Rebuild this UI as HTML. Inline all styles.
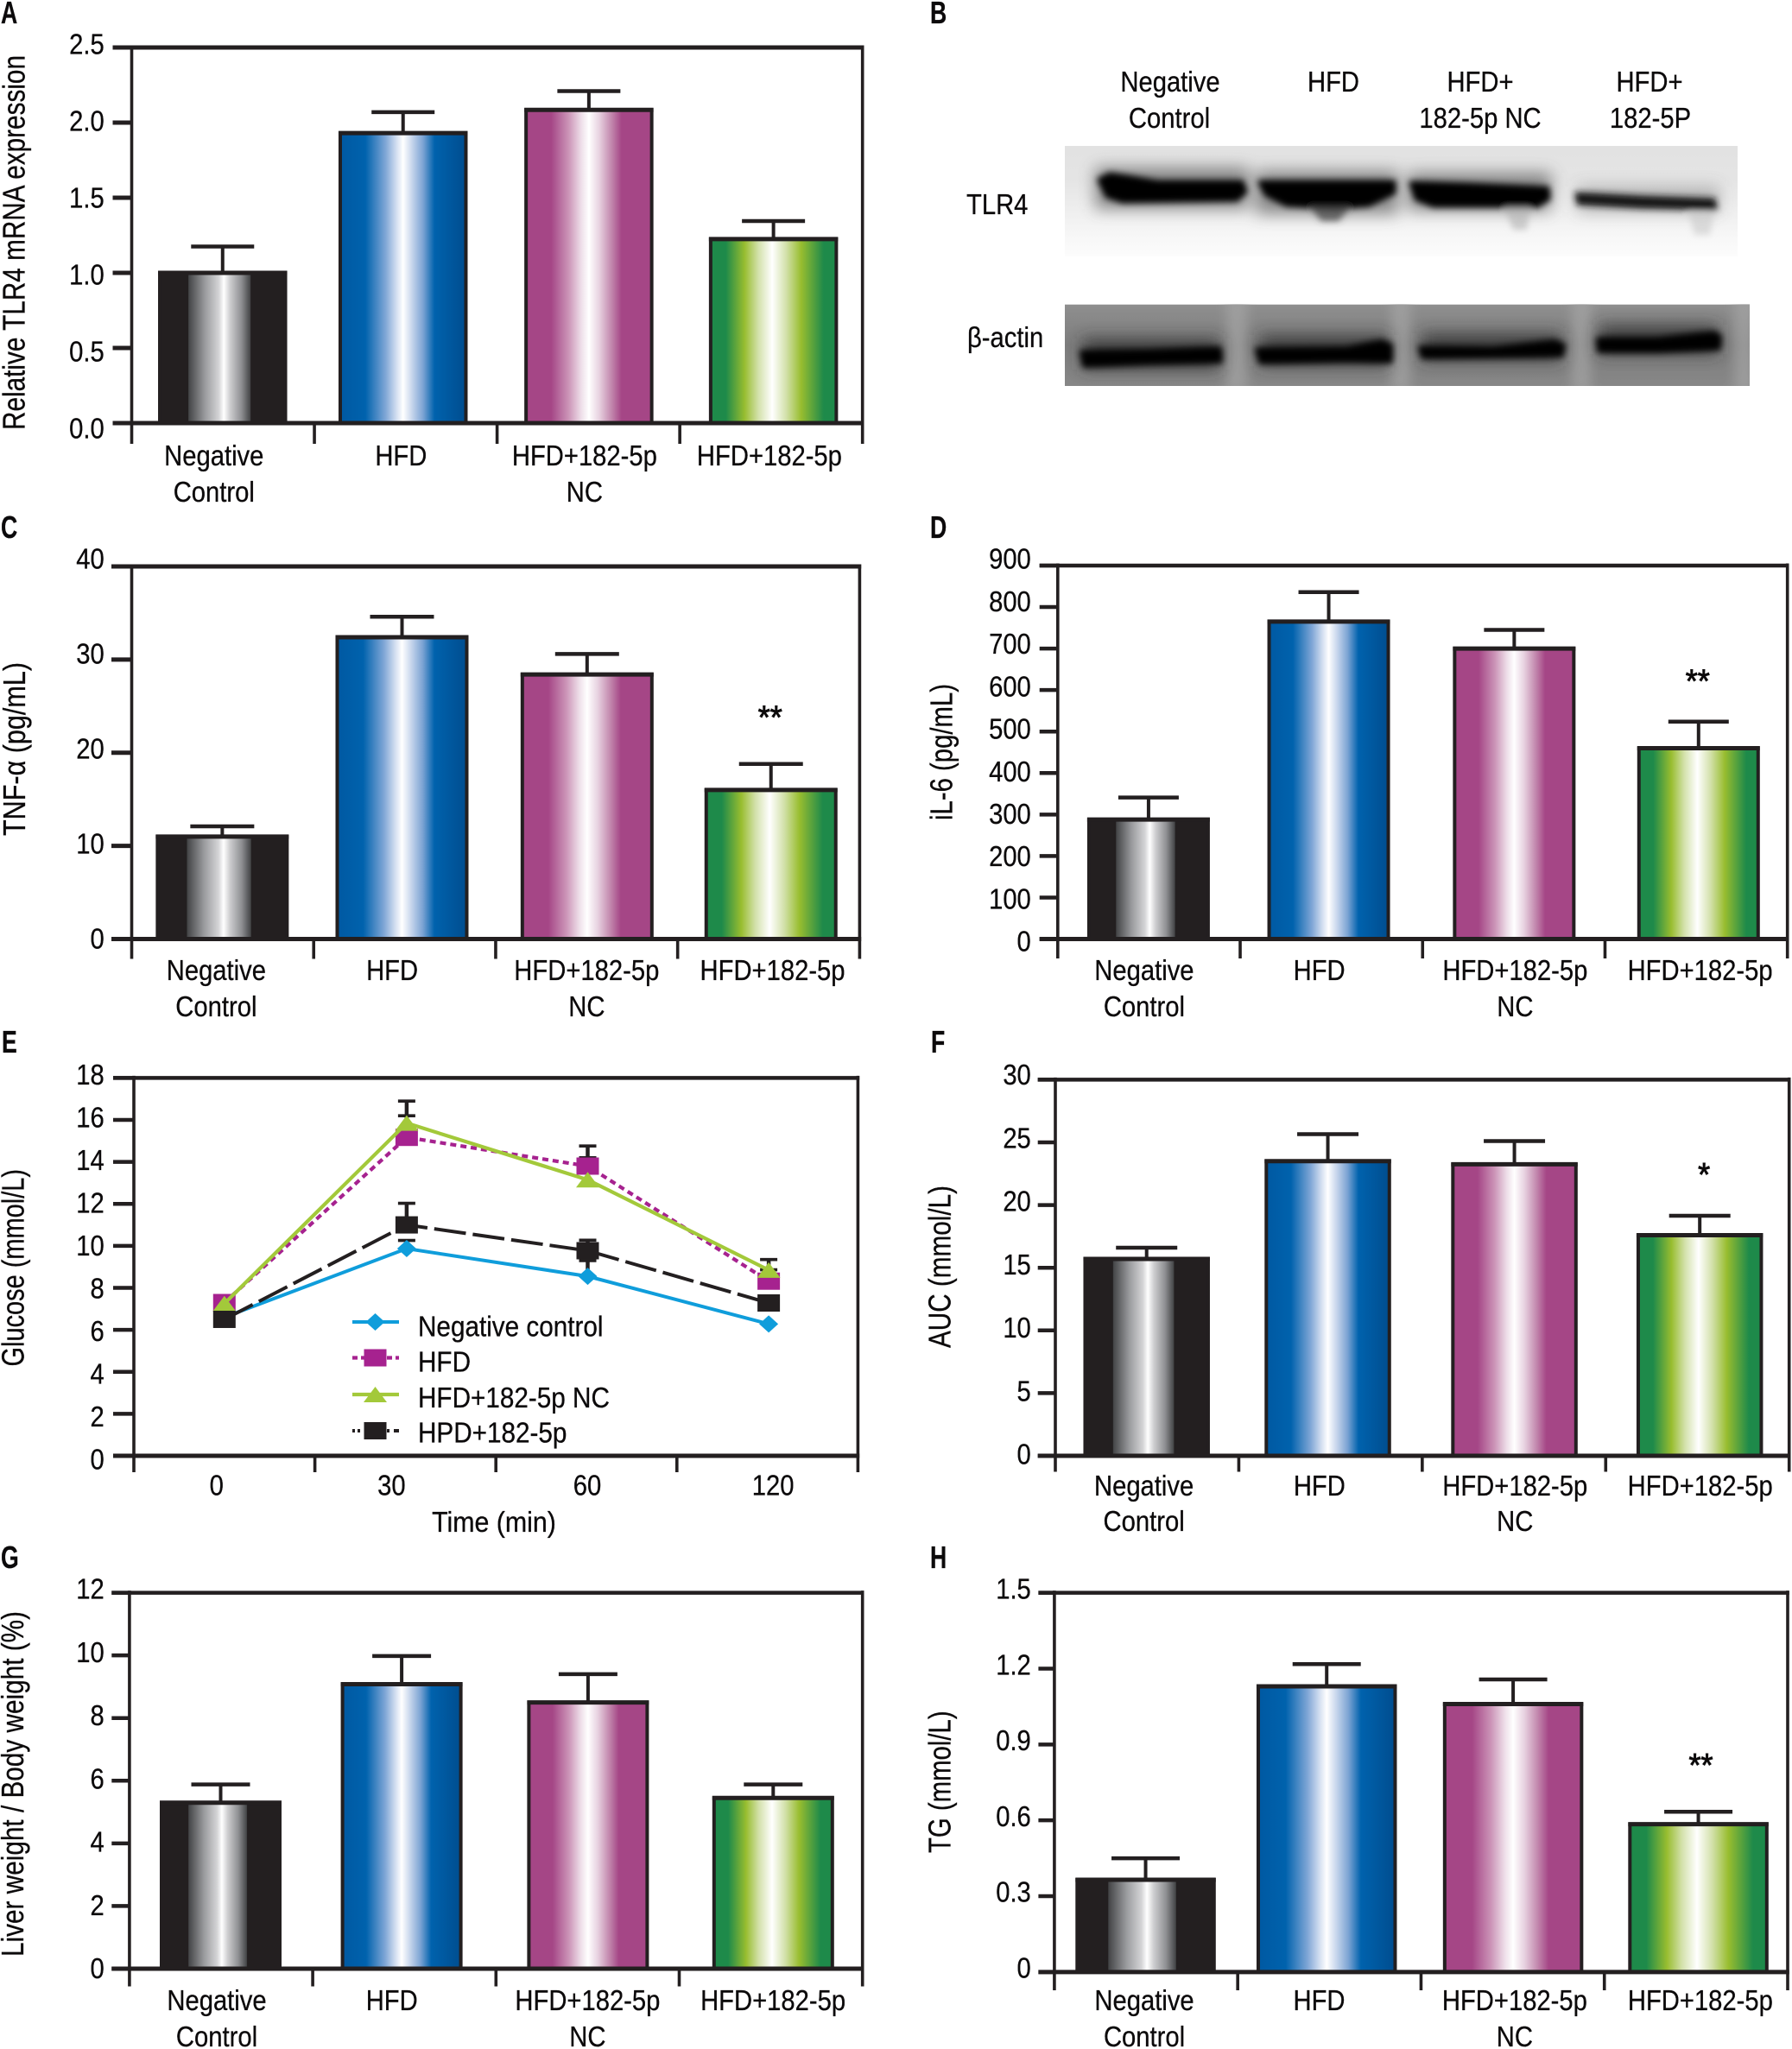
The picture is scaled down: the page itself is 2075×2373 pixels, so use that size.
<!DOCTYPE html>
<html lang="en">
<head>
<meta charset="utf-8">
<title>TLR4 and metabolic measures panel figure</title>
<style>
html,body{margin:0;padding:0;background:#fff;width:2075px;height:2373px;overflow:hidden}
svg{display:block}
text{font-family:"Liberation Sans",sans-serif;fill:#0c0a0b;stroke:#0c0a0b;stroke-width:.3px}
</style>
</head>
<body>
<svg id="figure" xmlns="http://www.w3.org/2000/svg" width="2075" height="2373" viewBox="0 0 2075 2373">
<defs>
  <linearGradient id="grad-black" x1="0" x2="1" y1="0" y2="0">
    <stop offset="0" stop-color="#231f20"/><stop offset=".225" stop-color="#231f20"/><stop offset=".23" stop-color="#444547"/>
    <stop offset=".36" stop-color="#9a9b9e"/><stop offset=".47" stop-color="#d4d4d6"/><stop offset=".51" stop-color="#ffffff"/>
    <stop offset=".56" stop-color="#cdcdcf"/><stop offset=".65" stop-color="#8e8f92"/><stop offset=".72" stop-color="#444547"/><stop offset=".725" stop-color="#231f20"/><stop offset="1" stop-color="#231f20"/>
  </linearGradient>
  <linearGradient id="grad-blue" x1="0" x2="1" y1="0" y2="0">
    <stop offset="0" stop-color="#0059a2"/><stop offset=".2" stop-color="#0062ad"/><stop offset=".36" stop-color="#7fa6d6"/><stop offset=".45" stop-color="#d5e0f1"/><stop offset=".5" stop-color="#ffffff"/>
    <stop offset=".56" stop-color="#d0dcef"/><stop offset=".66" stop-color="#7ba3d3"/><stop offset=".75" stop-color="#0062ad"/><stop offset="1" stop-color="#004d8f"/>
  </linearGradient>
  <linearGradient id="grad-magenta" x1="0" x2="1" y1="0" y2="0">
    <stop offset="0" stop-color="#a54686"/><stop offset=".2" stop-color="#a54686"/><stop offset=".34" stop-color="#cc95b8"/><stop offset=".44" stop-color="#eedfe9"/><stop offset=".5" stop-color="#ffffff"/>
    <stop offset=".58" stop-color="#e8d3e1"/><stop offset=".68" stop-color="#c287ad"/><stop offset=".76" stop-color="#a54686"/><stop offset="1" stop-color="#a54686"/>
  </linearGradient>
  <linearGradient id="grad-green" x1="0" x2="1" y1="0" y2="0">
    <stop offset="0" stop-color="#1e8a4a"/><stop offset=".12" stop-color="#1e8a4a"/><stop offset=".27" stop-color="#98bd2f"/><stop offset=".38" stop-color="#d3e1ab"/><stop offset=".49" stop-color="#ffffff"/>
    <stop offset=".6" stop-color="#d3e1ab"/><stop offset=".72" stop-color="#98bd2f"/><stop offset=".9" stop-color="#1e8a4a"/><stop offset="1" stop-color="#1e8a4a"/>
  </linearGradient>
  <linearGradient id="blot-top-bg" x1="0" x2="0" y1="0" y2="1">
    <stop offset="0" stop-color="#e2e2e2"/><stop offset=".3" stop-color="#e4e4e4"/><stop offset=".6" stop-color="#efefef"/><stop offset=".85" stop-color="#f8f8f8"/><stop offset="1" stop-color="#fcfcfc"/>
  </linearGradient>
  <linearGradient id="blot-bottom-bg" x1="0" x2="0" y1="0" y2="1">
    <stop offset="0" stop-color="#8f8f8f"/><stop offset=".5" stop-color="#7d7d7d"/><stop offset="1" stop-color="#878787"/>
  </linearGradient>
  <filter id="blur-band" filterUnits="userSpaceOnUse" x="1200" y="150" width="860" height="320"><feGaussianBlur stdDeviation="3.8"/></filter>
  <filter id="blur-halo" filterUnits="userSpaceOnUse" x="1200" y="150" width="860" height="320"><feGaussianBlur stdDeviation="9"/></filter>
  <filter id="blur-gap" filterUnits="userSpaceOnUse" x="1200" y="320" width="860" height="160"><feGaussianBlur stdDeviation="7"/></filter>
  <clipPath id="clip-blot-top"><rect x="1233" y="169" width="779" height="128"/></clipPath>
  <clipPath id="clip-blot-bottom"><rect x="1233" y="352" width="793" height="95"/></clipPath>
</defs>

<g font-weight="bold" font-size="36">
  <text transform="translate(1 27) scale(.74 1)">A</text>
  <text transform="translate(1077 27) scale(.74 1)">B</text>
  <text transform="translate(1 623) scale(.74 1)">C</text>
  <text transform="translate(1077 623) scale(.74 1)">D</text>
  <text transform="translate(2 1219) scale(.74 1)">E</text>
  <text transform="translate(1078 1219) scale(.74 1)">F</text>
  <text transform="translate(1 1816) scale(.74 1)">G</text>
  <text transform="translate(1077 1816) scale(.74 1)">H</text>
</g>

<g>
  <g font-size="33" text-anchor="middle">
    <text transform="translate(1355 106) scale(.885 1)">Negative</text>
    <text transform="translate(1354 148) scale(.885 1)">Control</text>
    <text transform="translate(1544 106) scale(.885 1)">HFD</text>
    <text transform="translate(1714 106) scale(.885 1)">HFD+</text>
    <text transform="translate(1714 148) scale(.885 1)">182-5p NC</text>
    <text transform="translate(1910 106) scale(.885 1)">HFD+</text>
    <text transform="translate(1911 148) scale(.885 1)">182-5P</text>
  </g>
  <text font-size="33" transform="translate(1119 248) scale(.885 1)">TLR4</text>
  <text font-size="33" transform="translate(1120 402) scale(.885 1)">β-actin</text>

  <g clip-path="url(#clip-blot-top)">
    <rect x="1233" y="169" width="779" height="128" fill="url(#blot-top-bg)"/>
    <g filter="url(#blur-halo)" fill="#4c4c4c" opacity=".62">
      <rect x="1268" y="194" width="178" height="48"/>
      <rect x="1454" y="198" width="165" height="50"/>
      <rect x="1630" y="200" width="166" height="44"/>
      <rect x="1826" y="216" width="165" height="30" opacity=".55"/>
    </g>
    <g filter="url(#blur-band)" stroke-linejoin="round">
      <path fill="#000" stroke="#000" stroke-width="5" d="M1273 208 L1285 202 L1305 205 L1340 211 L1438 211 L1442 222 L1432 231 L1300 233 L1282 227 Z"/>
      <path fill="#000" stroke="#000" stroke-width="5" d="M1459 211 L1614 211 L1614 223 L1585 237 L1545 240 L1490 237 L1466 225 Z"/>
      <path fill="#444" opacity=".75" d="M1515 238 L1565 238 L1550 256 L1530 256 Z"/>
      <path fill="#000" stroke="#000" stroke-width="5" d="M1634 212 L1700 214 L1792 218 L1793 230 L1780 238 L1660 238 L1640 230 Z"/>
      <path fill="#b0b0b0" opacity=".6" d="M1742 240 L1772 240 L1768 266 L1752 266 Z"/>
      <path fill="#161616" stroke="#161616" stroke-width="3" d="M1825 224 L1900 228 L1985 231 L1987 242 L1900 240 L1827 236 Z"/>
      <path fill="#c4c4c4" opacity=".55" d="M1955 245 L1985 245 L1980 272 L1962 272 Z"/>
    </g>
  </g>

  <g clip-path="url(#clip-blot-bottom)">
    <rect x="1233" y="352" width="793" height="95" fill="url(#blot-bottom-bg)"/>
    <rect x="1233" y="349" width="793" height="4" fill="#dcdcdc"/>
    <g filter="url(#blur-gap)" fill="#a8a8a8" opacity=".65">
      <rect x="1420" y="345" width="24" height="110"/>
      <rect x="1611" y="345" width="22" height="110"/>
      <rect x="1820" y="345" width="22" height="110"/>
      <rect x="2008" y="345" width="24" height="110"/>
    </g>
    <g filter="url(#blur-halo)" fill="#2c2c2c" opacity=".72">
      <rect x="1253" y="392" width="160" height="36"/>
      <rect x="1458" y="388" width="150" height="36"/>
      <rect x="1646" y="386" width="162" height="32"/>
      <rect x="1851" y="376" width="138" height="34"/>
    </g>
    <g filter="url(#blur-band)" stroke-linejoin="round">
      <path fill="#000" stroke="#000" stroke-width="6" d="M1253 408 L1330 407 L1412 404 L1413 418 L1330 420 L1256 423 Z"/>
      <path fill="#000" stroke="#000" stroke-width="6" d="M1456 405 L1560 404 L1600 396 L1610 400 L1610 418 L1560 417 L1460 419 Z"/>
      <path fill="#000" stroke="#000" stroke-width="6" d="M1645 403 L1730 404 L1800 396 L1810 400 L1808 411 L1730 412 L1648 413 Z"/>
      <path fill="#000" stroke="#000" stroke-width="6" d="M1851 393 L1920 393 L1985 386 L1991 390 L1990 403 L1920 406 L1852 406 Z"/>
    </g>
  </g>
</g>
</svg>

<script>
// ---------- shared category and tick labels ----------
const barCategories = [["Negative", "Control"], ["HFD"], ["HFD+182-5p", "NC"], ["HFD+182-5p"]];
const barGradients = ["grad-black", "grad-blue", "grad-magenta", "grad-green"];

// ---------- panel A ----------
const aValues = [1.0, 1.93, 2.085, 1.225];
const aErrorTops = [1.175, 2.07, 2.21, 1.345];
const aTickLabels = ["0.0", "0.5", "1.0", "1.5", "2.0", "2.5"];
// ---------- panel C ----------
const cValues = [11.0, 32.4, 28.4, 16.0];
const cErrorTops = [12.1, 34.6, 30.6, 18.8];
const cTickLabels = ["0", "10", "20", "30", "40"];
// ---------- panel D ----------
const dValues = [288, 765, 700, 460];
const dErrorTops = [341, 836, 745, 524];
const dTickLabels = ["0", "100", "200", "300", "400", "500", "600", "700", "800", "900"];
// ---------- panel F ----------
const fValues = [15.7, 23.5, 23.25, 17.6];
const fErrorTops = [16.6, 25.65, 25.1, 19.15];
const fTickLabels = ["0", "5", "10", "15", "20", "25", "30"];
// ---------- panel G ----------
const gValues = [5.3, 9.08, 8.5, 5.45];
const gErrorTops = [5.88, 9.98, 9.4, 5.88];
const gTickLabels = ["0", "2", "4", "6", "8", "10", "12"];
// ---------- panel H ----------
const hValues = [0.365, 1.13, 1.06, 0.585];
const hErrorTops = [0.45, 1.218, 1.157, 0.634];
const hTickLabels = ["0", "0.3", "0.6", "0.9", "1.2", "1.5"];
// ---------- panel E ----------
const timeLabels = ["0", "30", "60", "120"];
const glucoseTickLabels = ["0", "2", "4", "6", "8", "10", "12", "14", "16", "18"];
const negativeControlGlucose = [6.6, 9.87, 8.55, 6.28];
const hfdGlucose = [7.3, 15.17, 13.8, 8.32];
const hfdNcGlucose = [7.25, 15.85, 13.15, 8.85];
const hpdGlucose = [6.5, 11.0, 9.77, 7.28];
const negativeControlErrorTops = [6.6, 10.26, 9.3, 6.28];
const hfdErrorTops = [7.3, 16.2, 14.76, 8.86];
const hfdNcErrorTops = [7.25, 16.9, 14.2, 9.35];
const hpdErrorTops = [6.5, 12.03, 10.27, 7.6];
const seriesLabels = ["Negative control", "HFD", "HFD+182-5p NC", "HPD+182-5p"];

const SVGNS = "http://www.w3.org/2000/svg";
const INK = "#231f20";
const root = document.getElementById("figure");

function shape(parent, tag, attrs, name) {
  const el = document.createElementNS(SVGNS, tag);
  for (const k in attrs) el.setAttribute(k, attrs[k]);
  
  
  parent.appendChild(el);
  return el;
}
function line(parent, x1, y1, x2, y2, w, name, color) {
  return shape(parent, "line", { x1, y1, x2, y2, stroke: color || INK, "stroke-width": w }, name);
}
function label(parent, x, y, str, anchor, name, fs, sx) {
  const el = shape(parent, "text", {
    transform: `translate(${x} ${y}) scale(${sx || 0.885} 1)`,
    "text-anchor": anchor, "font-size": fs || 33
  }, name);
  el.textContent = str;
  return el;
}
function yTitle(parent, x, yBottom, len, str, name) {
  const el = shape(parent, "text", {
    transform: `translate(${x} ${yBottom}) rotate(-90)`,
    "font-size": 36, textLength: len, lengthAdjust: "spacingAndGlyphs"
  }, name);
  el.textContent = str;
  return el;
}
function group(name) {
  return shape(root, "g", {}, name);
}

// Draws frame, ticks and tick labels; returns the y scale.
function drawAxes(g, f, tickLabels) {
  const max = parseFloat(tickLabels[tickLabels.length - 1]);
  const y = v => f.b - (v / max) * (f.b - f.t);
  const n = tickLabels.length - 1;
  tickLabels.forEach((t, i) => {
    const v = parseFloat(t), ty = y(v);
    line(g, f.tickEnd, ty, f.l, ty, f.tickW || 5, "y-axis-tick");
    const off = f.labelOff[1] + (f.labelOff[0] - f.labelOff[1]) * (i / n);
    label(g, f.labelRight, ty + off + 10.6, t, "end", "y-axis-tick-label");
  });
  line(g, f.l, f.t - 2.5, f.l, f.tickBottom, 3.6, "y-axis-line");
  line(g, f.r, f.t - 2.5, f.r, f.tickBottom, 3.6, "right-frame-line");
  const bw = (f.r - f.l) / 4;
  for (let i = 1; i < 4; i++) line(g, f.l + i * bw, f.b, f.l + i * bw, f.tickBottom, 3.6, "x-axis-tick");
  return y;
}
function drawFrameLines(g, f) {
  line(g, f.tickEnd, f.t, f.r + 1.8, f.t, f.tickW || 5, "top-frame-line");
  line(g, f.tickEnd, f.b, f.r + 1.8, f.b, 5, "x-axis-line");
}
function barOffset(i) {
  return i === 1 ? -2.6 : i === 2 ? 1 : i === 3 ? 3.2 : 0;
}

function drawBarPanel(p) {
  const g = group(p.name);
  const f = p.frame;
  const y = drawAxes(g, f, p.tickLabels);
  const band = (f.r - f.l) / 4;
  const x = i => f.l + band * (i + 0.5) + barOffset(i) - 0.5;
  p.values.forEach((v, i) => {
    const cx = x(i), top = y(v), cap = y(p.errors[i]);
    line(g, cx, top, cx, cap, 4, "error-bar-stem");
    line(g, cx - p.capW / 2, cap, cx + p.capW / 2, cap, 4.5, "error-bar-cap");
    shape(g, "rect", {
      x: cx - p.barW / 2 + 2, y: top, width: p.barW - 4, height: f.b - top,
      fill: `url(#${barGradients[i]})`, stroke: INK, "stroke-width": 4
    }, "bar-" + (i + 1));
    // thicker top edge of the bar
    line(g, cx - p.barW / 2, top, cx + p.barW / 2, top, 5, "bar-top-edge");
  });
  drawFrameLines(g, f);
  barCategories.forEach((lines, i) => {
    const lx = f.l + band * (i + 0.5) + p.labelNudge[i];
    lines.forEach((s, j) => label(g, lx, p.labelBase[j], s, "middle", "x-category-label"));
  });
  yTitle(g, p.title.x, p.title.y, p.title.len, p.title.text, "y-axis-title");
  if (p.star) {
    const s = shape(g, "text", {
      transform: `translate(${x(3) - 1 + p.star.dx} ${y(p.errors[3]) - p.star.gap + 17}) scale(.95 1)`,
      "text-anchor": "middle", "font-size": 38, style: "stroke-width:.9px"
    }, "significance-marker");
    s.textContent = p.star.text;
  }
}

drawBarPanel({
  name: "panel-a-tlr4-mrna", tickLabels: aTickLabels, values: aValues, errors: aErrorTops,
  frame: { l: 152.5, r: 998.7, t: 55, b: 490, tickEnd: 130.5, tickBottom: 514, labelRight: 120.7, labelOff: [-3, 7] },
  barW: 149.5, capW: 73, labelNudge: [-10.5, -5.5, -4.5, -2], labelBase: [539, 581],
  title: { x: 28.5, y: 498, len: 434, text: "Relative TLR4 mRNA expression" }
});
drawBarPanel({
  name: "panel-c-tnf-alpha", tickLabels: cTickLabels, values: cValues, errors: cErrorTops,
  frame: { l: 152.5, r: 995.4, t: 656, b: 1087.5, tickEnd: 129, tickBottom: 1110.5, labelRight: 120.7, labelOff: [-8, 0.5] },
  barW: 154, capW: 74, labelNudge: [-7.5, -14.5, 0, 4.5], labelBase: [1135, 1177],
  title: { x: 29, y: 968, len: 201, text: "TNF-α (pg/mL)" }, star: { text: "**", gap: 58, dx: 0 }
});
drawBarPanel({
  name: "panel-d-il-6", tickLabels: dTickLabels, values: dValues, errors: dErrorTops,
  frame: { l: 1224.8, r: 2069.7, t: 655, b: 1087.5, tickEnd: 1203.7, tickBottom: 1110, labelRight: 1193.8, labelOff: [-7, 3.6], tickW: 4.5 },
  barW: 142, capW: 70, labelNudge: [-5.5, -14, 1.5, 4.5], labelBase: [1135, 1177],
  title: { x: 1102.7, y: 950, len: 158, text: "iL-6 (pg/mL)" }, star: { text: "**", gap: 51, dx: 0 }
});
drawBarPanel({
  name: "panel-f-auc", tickLabels: fTickLabels, values: fValues, errors: fErrorTops,
  frame: { l: 1222, r: 2071.7, t: 1250.4, b: 1686, tickEnd: 1201.7, tickBottom: 1704.5, labelRight: 1193.8, labelOff: [-5, -1], tickW: 4.5 },
  barW: 146.5, capW: 71, labelNudge: [-3.6, -12.8, 1.2, 3.2], labelBase: [1732, 1773],
  title: { x: 1100.7, y: 1561, len: 188, text: "AUC (mmol/L)" }, star: { text: "*", gap: 52, dx: 6 }
});
drawBarPanel({
  name: "panel-g-liver-weight", tickLabels: gTickLabels, values: gValues, errors: gErrorTops,
  frame: { l: 149.9, r: 998.7, t: 1844.6, b: 2280, tickEnd: 129.3, tickBottom: 2300.5, labelRight: 120.7, labelOff: [-3.6, 0.5], tickW: 4.5 },
  barW: 141, capW: 68, labelNudge: [-5, -14.5, 0, 2.5], labelBase: [2328, 2370],
  title: { x: 27, y: 2266, len: 400, text: "Liver weight / Body weight (%)" }
});
drawBarPanel({
  name: "panel-h-tg", tickLabels: hTickLabels, values: hValues, errors: hErrorTops,
  frame: { l: 1220.9, r: 2070, t: 1844.6, b: 2283.9, tickEnd: 1202.4, tickBottom: 2305, labelRight: 1193.8, labelOff: [-3.5, -4], tickW: 4.5 },
  barW: 162.5, capW: 79, labelNudge: [-2, -11.8, 2.3, 5], labelBase: [2328, 2370],
  title: { x: 1100.7, y: 2146, len: 164.6, text: "TG (mmol/L)" }, star: { text: "**", gap: 58, dx: 4 }
});

// ---------- panel E: glucose line chart ----------
function marker(parent, kind, cx, cy, color) {
  if (kind === "diamond") {
    shape(parent, "polygon", {
      points: `${cx - 11},${cy} ${cx},${cy - 10} ${cx + 11},${cy} ${cx},${cy + 10}`, fill: color
    }, "diamond-marker");
  } else if (kind === "triangle") {
    shape(parent, "polygon", {
      points: `${cx - 13.5},${cy + 9} ${cx},${cy - 9} ${cx + 13.5},${cy + 9}`, fill: color
    }, "triangle-marker");
  } else {
    shape(parent, "rect", { x: cx - 13, y: cy - 10, width: 26, height: 20, fill: color }, "square-marker");
  }
}
(function drawPanelE() {
  const g = group("panel-e-glucose");
  const f = { l: 155, r: 993.4, t: 1248.4, b: 1686, tickEnd: 131, tickBottom: 1705, labelRight: 120.7, labelOff: [-3, 5], tickW: 4.5 };
  const y = drawAxes(g, f, glucoseTickLabels);
  const band = (f.r - f.l) / 4;
  const x = i => f.l + band * (i + 0.5) + (i === 0 ? 0 : 1.5);
  drawFrameLines(g, f);
  const styles = [
    { color: "#0f9ddb", dash: "", w: 4, kind: "diamond", errs: negativeControlErrorTops, values: negativeControlGlucose, key: "negative-control" },
    { color: "#a6228f", dash: "7 5", w: 4.2, kind: "square", errs: hfdErrorTops, values: hfdGlucose, key: "hfd" },
    { color: "#a3c93a", dash: "", w: 4.2, kind: "triangle", errs: hfdNcErrorTops, values: hfdNcGlucose, key: "hfd-nc" },
    { color: INK, dash: "37 8", w: 4, kind: "square", errs: hpdErrorTops, values: hpdGlucose, key: "hpd-182-5p" }
  ];
  styles.forEach(s => {
    const eg = group("error-bars-" + s.key);
    g.appendChild(eg);
    s.values.forEach((v, i) => {
      if (s.errs[i] > v) {
        line(eg, x(i), y(v), x(i), y(s.errs[i]), 4.5, "error-bar-stem");
        line(eg, x(i) - 10, y(s.errs[i]), x(i) + 10, y(s.errs[i]), 3.6, "error-bar-cap");
      }
    });
  });
  styles.forEach(s => {
    const pts = s.values.map((v, i) => x(i) + "," + y(v)).join(" ");
    const attrs = { points: pts, fill: "none", stroke: s.color, "stroke-width": s.w };
    if (s.dash) attrs["stroke-dasharray"] = s.dash;
    shape(g, "polyline", attrs, "series-line-" + s.key);
    s.values.forEach((v, i) => marker(g, s.kind, x(i), y(v), s.color));
  });
  // category labels
  const nudges = [-9, -16, 1, 6.5];
  timeLabels.forEach((t, i) => label(g, f.l + band * (i + 0.5) + nudges[i], 1731.5, t, "middle", "x-category-label"));
  label(g, 572, 1774, "Time (min)", "middle", "x-axis-title", 33, 0.92);
  yTitle(g, 27.5, 1582.5, 228.5, "Glucose (mmol/L)", "y-axis-title");
  // legend
  const lg = shape(g, "g", {}, "legend");
  const rowY = [1531, 1572.5, 1615, 1657];
  const textY = [1547.5, 1588.5, 1630, 1670.5];
  styles.forEach((s, i) => {
    const entry = shape(lg, "g", {}, "legend-entry");
    const attrs = { x1: 408, x2: 462, y1: rowY[i], y2: rowY[i], stroke: s.color, "stroke-width": s.w };
    if (s.key === "hfd") attrs["stroke-dasharray"] = "6 4";
    if (s.key === "hpd-182-5p") attrs["stroke-dasharray"] = "3 3 3 5 16 4";
    shape(entry, "line", attrs, "legend-line");
    marker(entry, s.kind, 434.5, rowY[i], s.color);
    label(entry, 484, textY[i], seriesLabels[i], "start", "legend-label", 33, 0.9);
  });
})();
</script>
</body>
</html>
